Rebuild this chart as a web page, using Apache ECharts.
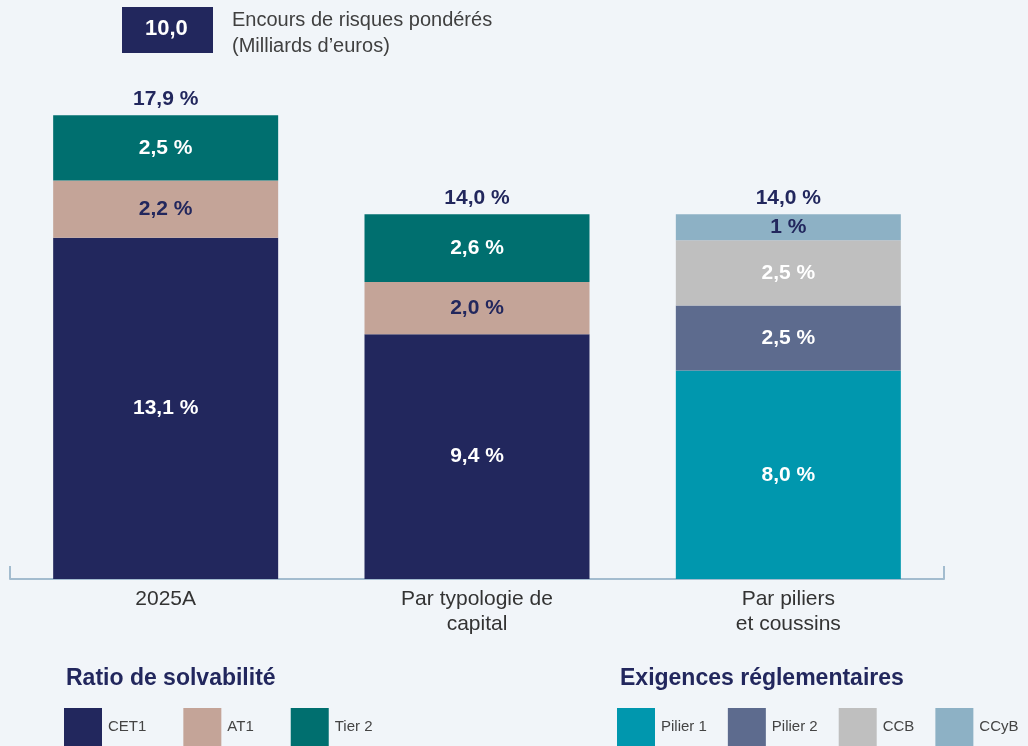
<!DOCTYPE html>
<html>
<head>
<meta charset="utf-8">
<script src="https://cdn.jsdelivr.net/npm/echarts@6/dist/echarts.min.js"></script>
<style>
html,body{margin:0;padding:0;background:#f1f5f9;}
#chart{width:1028px;height:746px;}
</style>
</head>
<body>
<div id="chart"></div>
<script>
// ---- Data ----
const categories = ['2025A', 'Par typologie de\ncapital', 'Par piliers\net coussins'];
const cet1    = [13.1, 9.4, null];
const at1     = [2.2, 2.0, null];
const tier2   = [2.5, 2.6, null];
const pilier1 = [null, null, 8.0];
const pilier2 = [null, null, 2.5];
const ccb     = [null, null, 2.5];
const ccyb    = [null, null, 1];
const totals  = [17.9, 14.0, 14.0];
const rwaValue = '10,0';
const rwaText = ['Encours de risques pondérés', '(Milliards d\u2019euros)'];
const leftLegendTitle = 'Ratio de solvabilité';
const rightLegendTitle = 'Exigences réglementaires';

// ---- Styles ----
const NAVY = '#22275d';
const FONT = '"Liberation Sans", Arial, Helvetica, sans-serif';
const fmt = (v, d) => v.toFixed(d).replace('.', ',') + ' %';

function barSeries(name, data, color, labelColor, decimals) {
  return {
    name: name, type: 'bar', stack: 'total', data: data,
    barWidth: 225,
    itemStyle: { color: color },
    label: {
      show: true, position: 'inside', color: labelColor,
      fontFamily: FONT, fontSize: 21, fontWeight: 'bold',
      formatter: p => (p.value == null ? '' : fmt(p.value, decimals))
    },
    emphasis: { disabled: true }
  };
}

const series = [
  barSeries('CET1', cet1, NAVY, '#ffffff', 1),
  barSeries('AT1', at1, '#c4a498', NAVY, 1),
  barSeries('Tier 2', tier2, '#006f6f', '#ffffff', 1),
  barSeries('Pilier 1', pilier1, '#0097ae', '#ffffff', 1),
  barSeries('Pilier 2', pilier2, '#5d6b8e', '#ffffff', 1),
  barSeries('CCB', ccb, '#bfbfbf', '#ffffff', 1),
  barSeries('CCyB', ccyb, '#8db1c5', NAVY, 0),
  {
    name: 'Total', type: 'bar', stack: 'total',
    data: totals.map(() => 0), barWidth: 225,
    itemStyle: { color: 'rgba(0,0,0,0)' },
    label: {
      show: true, position: 'top', distance: 6, color: NAVY,
      fontFamily: FONT, fontSize: 21, fontWeight: 'bold',
      formatter: p => fmt(totals[p.dataIndex], 1)
    },
    emphasis: { disabled: true }
  }
];

const legendText = { color: '#444444', fontFamily: FONT, fontSize: 15, padding: [7, 0, 0, 1] };

const option = {
  backgroundColor: '#f1f5f9',
  animation: false,
  grid: { left: 10, right: 84, top: 58, bottom: 167 },
  xAxis: [
    {
      type: 'category', data: categories,
      axisLine: { show: true, lineStyle: { color: '#a3bccf', width: 2 } },
      axisTick: { show: false },
      axisLabel: {
        color: '#333333', fontFamily: FONT, fontSize: 21, lineHeight: 25,
        margin: 8, interval: 0
      }
    },
    {
      type: 'value', position: 'bottom', min: 0, max: 1, interval: 1,
      axisLine: { show: false },
      axisTick: { show: true, inside: true, length: 13, lineStyle: { color: '#a3bccf', width: 2 } },
      axisLabel: { show: false },
      splitLine: { show: false }
    }
  ],
  yAxis: { type: 'value', min: 0, max: 20, show: false },
  title: [
    { text: leftLegendTitle, left: 61, top: 662,
      textStyle: { color: NAVY, fontFamily: FONT, fontSize: 23, fontWeight: 'bold' } },
    { text: rightLegendTitle, left: 615, top: 662,
      textStyle: { color: NAVY, fontFamily: FONT, fontSize: 23, fontWeight: 'bold' } }
  ],
  legend: [
    { data: ['CET1', 'AT1', 'Tier 2'], left: 59, top: 703, icon: 'rect',
      itemWidth: 38, itemHeight: 38, itemGap: 37, textStyle: legendText, selectedMode: false },
    { data: ['Pilier 1', 'Pilier 2', 'CCB', 'CCyB'], left: 612, top: 703, icon: 'rect',
      itemWidth: 38, itemHeight: 38, itemGap: 21, textStyle: legendText, selectedMode: false }
  ],
  graphic: [
    { type: 'rect', left: 122, top: 7, shape: { width: 91, height: 46 }, style: { fill: NAVY } },
    { type: 'text', left: 145, top: 18,
      style: { text: rwaValue, fill: '#ffffff', font: 'bold 22px ' + FONT } },
    { type: 'text', left: 232, top: 7,
      style: { text: rwaText.join('\n'), fill: '#404040', font: '20px ' + FONT, lineHeight: 26 } }
  ],
  series: series
};

echarts.init(document.getElementById('chart')).setOption(option);
</script>
</body>
</html>
